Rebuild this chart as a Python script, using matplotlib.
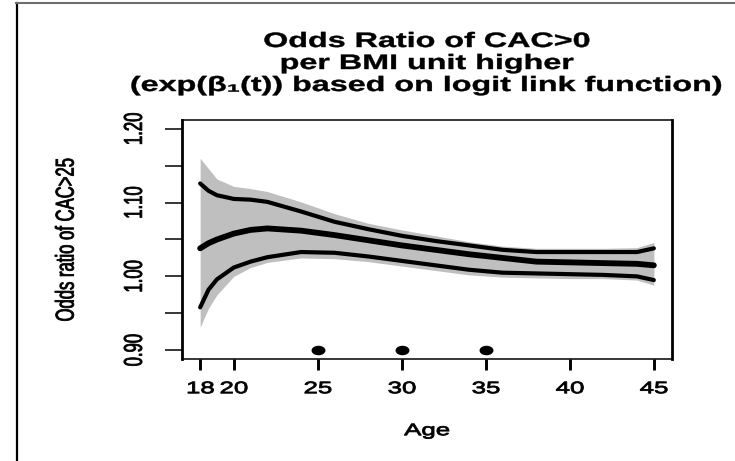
import numpy as np
import matplotlib
matplotlib.use("Agg")
import matplotlib.pyplot as plt
import matplotlib.patheffects as pe
from matplotlib.path import Path
from matplotlib.lines import Line2D
from matplotlib.transforms import Affine2D

plt.rcParams['font.family'] = ['Liberation Sans', 'DejaVu Sans']

# Odds ratio curve and its bands over age
age = [18, 18.5, 19, 20, 21, 22, 24, 26, 28, 30, 32, 34, 36, 38, 40, 42, 44, 45]
or_est = [1.038, 1.045, 1.050, 1.058, 1.063, 1.065, 1.062, 1.056, 1.049, 1.042,
          1.036, 1.030, 1.025, 1.020, 1.019, 1.018, 1.017, 1.015]
or_upper = [1.126, 1.116, 1.110, 1.105, 1.104, 1.101, 1.088, 1.074, 1.064, 1.055,
            1.048, 1.042, 1.036, 1.033, 1.033, 1.033, 1.033, 1.038]
or_lower = [0.958, 0.982, 0.996, 1.012, 1.020, 1.026, 1.033, 1.032, 1.027, 1.021,
            1.015, 1.009, 1.005, 1.004, 1.003, 1.002, 1.000, 0.995]
band_hi = [1.160, 1.146, 1.132, 1.122, 1.119, 1.115, 1.101, 1.085, 1.072, 1.063,
           1.055, 1.047, 1.041, 1.038, 1.038, 1.038, 1.039, 1.046]
band_lo = [0.931, 0.957, 0.975, 1.000, 1.012, 1.019, 1.025, 1.024, 1.020, 1.014,
           1.008, 1.002, 0.999, 0.998, 0.997, 0.997, 0.995, 0.988]

knots = [25, 30, 35]
knot_level = [0.90, 0.90, 0.90]

xticks = [18, 20, 25, 30, 35, 40, 45]
yticks = [0.90, 0.95, 1.00, 1.05, 1.10, 1.15, 1.20]
ytick_labels = ['0.90', '', '1.00', '', '1.10', '', '1.20']

SX = 1.55  # horizontal stretch of the whole device


class Stretch(pe.AbstractPathEffect):
    """Widen drawn text horizontally about its own centre, with an optional outline."""

    def __init__(self, sx, lw=0.0):
        super().__init__()
        self.sx = sx
        self.lw = lw

    def draw_path(self, renderer, gc, tpath, affine, rgbFace=None):
        if len(tpath.vertices) == 0:
            return
        pts = affine.transform(tpath.vertices)
        cx = 0.5 * (pts[:, 0].min() + pts[:, 0].max())
        tr = affine + Affine2D().translate(-cx, 0).scale(self.sx, 1).translate(cx, 0)
        gc0 = renderer.new_gc()
        gc0.copy_properties(gc)
        if self.lw > 0 and rgbFace is not None:
            gc0.set_linewidth(self.lw)
            gc0.set_foreground(rgbFace)
        renderer.draw_path(gc0, tpath, tr, rgbFace)
        gc0.restore()


W, H = 735, 461
fig = plt.figure(figsize=(W / 100, H / 100), dpi=100)
ax = fig.add_axes([182 / W, (H - 359) / H, 490 / W, 239 / H])

ax.fill_between(age, band_lo, band_hi, color='#bfbfbf', lw=0)
ax.plot(age, or_upper, color='black', lw=3, solid_capstyle='round')
ax.plot(age, or_lower, color='black', lw=3, solid_capstyle='round')
ax.plot(age, or_est, color='black', lw=4.2, solid_capstyle='round')

circ = Path.unit_circle()
oval = Path(circ.vertices * [SX, 1.0], circ.codes)
ax.plot(knots, knot_level, ls='none', marker=oval, ms=9, color='black')

ax.set_xlim(16.92, 46.08)
ax.set_ylim(0.888, 1.212)
ax.set_xticks(xticks, labels=[str(v) for v in xticks])
ax.set_yticks(yticks, labels=ytick_labels)

ax.tick_params(axis='x', direction='out', length=8, width=2.1, labelsize=12, pad=8)
ax.tick_params(axis='y', direction='out', length=12, width=1.1, labelsize=12,
               pad=17, labelrotation=90)
for lab in ax.get_yticklabels():
    lab.set_va('center')

for side in ['left', 'right']:
    ax.spines[side].set_linewidth(2.0)
for side in ['top', 'bottom']:
    ax.spines[side].set_linewidth(1.1)

ax.set_xlabel('Age', fontsize=12)
ax.xaxis.set_label_coords(0.5, -0.30)
ax.xaxis.label.set_va('center')
ax.set_ylabel('Odds ratio of CAC>25', fontsize=12)
ax.yaxis.set_label_coords(-0.237, 0.5)
ax.yaxis.label.set_va('center')

title = fig.text(427 / W, 1 - 32 / H,
                 'Odds Ratio of CAC>0\nper BMI unit higher\n'
                 '(exp(\u03b2\u2081(t)) based on logit link function)',
                 ha='center', va='top', fontsize=15, fontweight='bold',
                 linespacing=1.2)

for t in ax.get_xticklabels() + ax.get_yticklabels() + [ax.xaxis.label, ax.yaxis.label]:
    t.set_path_effects([Stretch(SX, lw=0.6)])
title.set_path_effects([Stretch(SX, lw=0.3)])

# outer frame: black left edge, grey top edge
fig.add_artist(Line2D([16.5 / W, 16.5 / W], [0, 1 - 3 / H], color='black', lw=1.6,
                      transform=fig.transFigure))
fig.add_artist(Line2D([16 / W, 1], [1 - 3.5 / H, 1 - 3.5 / H], color='#6e6e6e', lw=1.5,
                      transform=fig.transFigure))

fig.savefig('out.png', dpi=100)
